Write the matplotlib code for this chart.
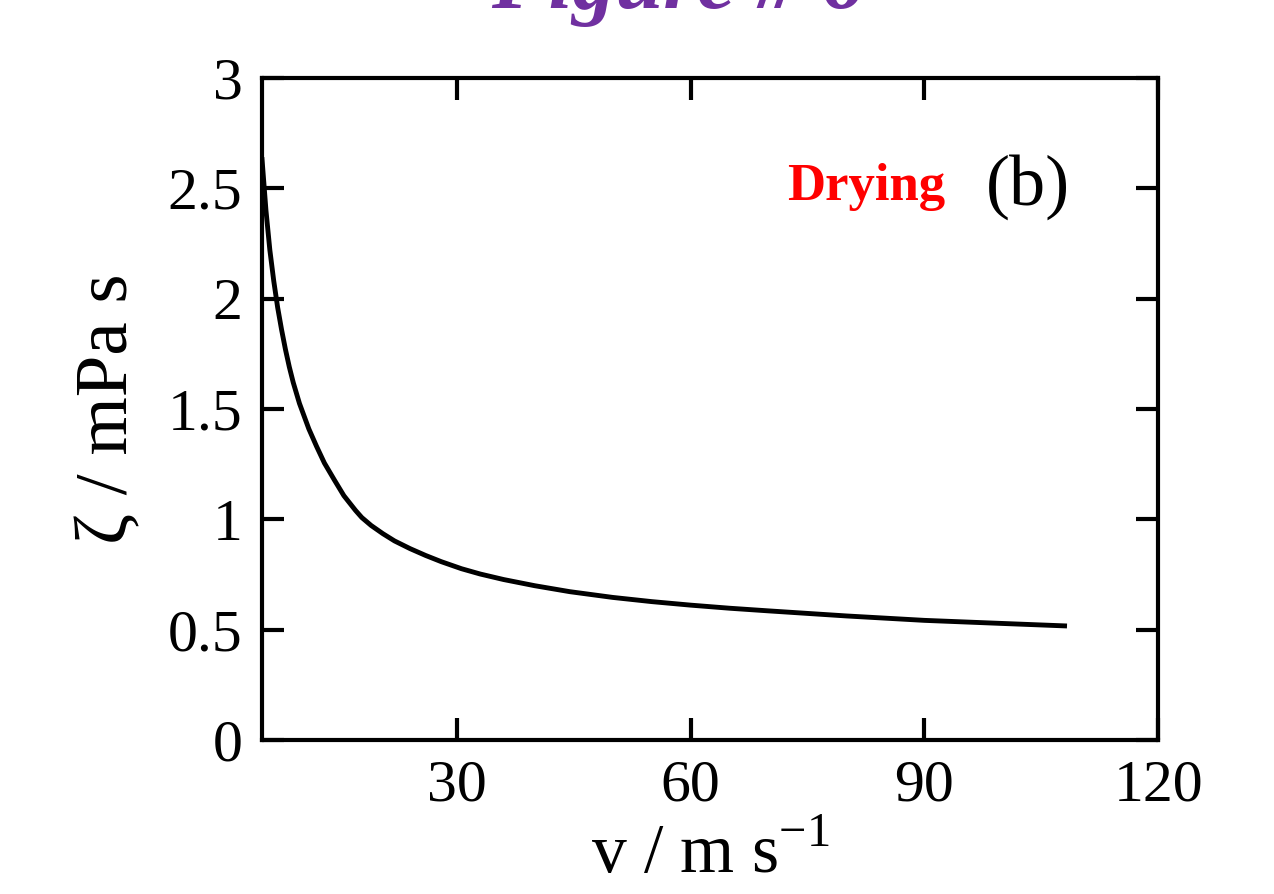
import numpy as np
import matplotlib
matplotlib.use('Agg')
import matplotlib.pyplot as plt

# values (speed in m/s, viscosity in mPa s)
speed = [5.0, 5.5, 6.0, 6.5, 7.0, 7.5, 8.0, 8.5, 9.0, 9.8, 11.0, 12.0, 13.0,
         14.3, 15.5, 17.0, 17.8, 19.0, 20.5, 22.0, 24.0, 26.0, 28.0, 30.6,
         33.0, 36.0, 40.0, 44.5, 50.0, 55.0, 60.0, 65.0, 70.0, 80.0, 90.0,
         100.0, 108.0]
zeta = [2.63, 2.40, 2.22, 2.08, 1.96, 1.86, 1.77, 1.69, 1.62, 1.525, 1.41,
        1.33, 1.255, 1.177, 1.107, 1.04, 1.008, 0.972, 0.935, 0.902, 0.867,
        0.836, 0.808, 0.776, 0.752, 0.727, 0.699, 0.672, 0.646, 0.627,
        0.611, 0.597, 0.585, 0.562, 0.542, 0.528, 0.517]

xticks = [30, 60, 90, 120]
yticks = [0, 0.5, 1, 1.5, 2, 2.5, 3]
yticklabels = ['0', '0.5', '1', '1.5', '2', '2.5', '3']

plt.rcParams['font.family'] = ['Liberation Serif', 'DejaVu Serif']
plt.rcParams['mathtext.fontset'] = 'custom'
plt.rcParams['mathtext.rm'] = 'Liberation Serif'

fig = plt.figure(figsize=(12.74, 8.94), dpi=100)
ax = fig.add_axes([0.2057, 0.1723, 0.7033, 0.7405])

ax.plot(speed, zeta, color='black', lw=3.5, solid_joinstyle='round')

ax.set_xlim(5, 120)
ax.set_ylim(0, 3)
ax.set_xticks(xticks)
ax.set_yticks(yticks)
ax.set_yticklabels(yticklabels)
ax.tick_params(direction='in', length=16, width=3, labelsize=43,
               top=True, right=True)
ax.tick_params(axis='y', pad=14)
ax.tick_params(axis='x', pad=14)
for s in ax.spines.values():
    s.set_linewidth(3)

ax.set_ylabel('\u03b6 / mPa s', fontsize=54, labelpad=18)
ax.set_xlabel(r'v / m s$^{\mathregular{-1}}$', fontsize=50, labelpad=8)

ax.text(72.4, 2.447, 'Drying', color='red', fontsize=38,
        fontweight='bold', va='baseline')
ax.text(97.9, 2.424, '(b)', color='black', fontsize=52, va='baseline')

fig.text(0.532, 1 - 8 / 894, 'Figure # 6', color='#7030A0', fontsize=62,
         fontweight='bold', fontstyle='italic', ha='center', va='baseline')

fig.savefig('out.png', dpi=100)
